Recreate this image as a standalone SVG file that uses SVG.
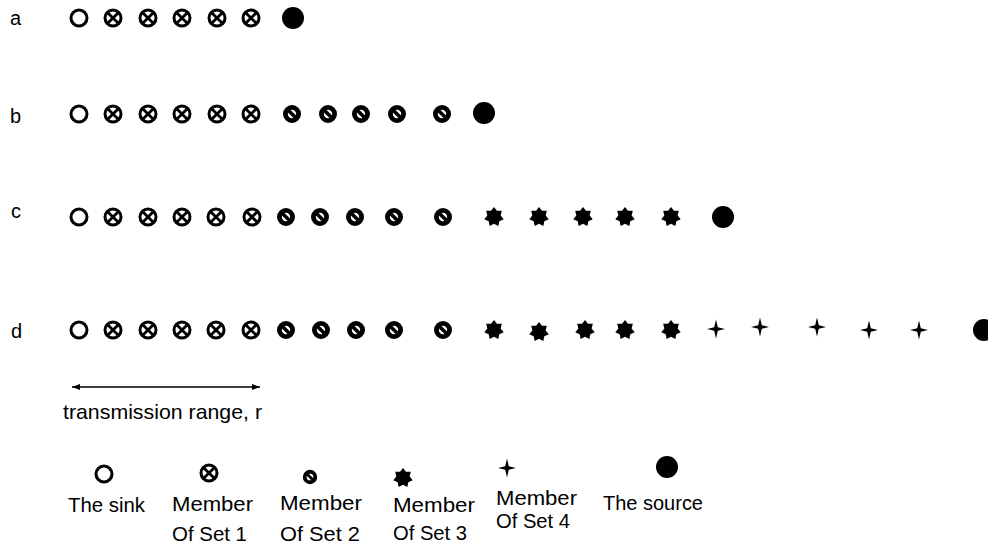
<svg xmlns="http://www.w3.org/2000/svg" xmlns:xlink="http://www.w3.org/1999/xlink" width="988" height="544" viewBox="0 0 988 544">
<style>
  text { font-family: "Liberation Sans", Arial, sans-serif; fill: #000; }
  .row { font-size: 20px; }
  .lbl { font-size: 21px; }
  .ring { fill: none; stroke: #000; stroke-width: 3; }
  .xline { stroke: #000; stroke-width: 2.8; fill: none; }
  .ring2 { fill: none; stroke: #000; stroke-width: 4.8; }
  .bar2 { stroke: #000; stroke-width: 3.6; }
  .fillk { fill: #000; stroke: none; }
  .conn { stroke: #000; stroke-width: 1.3; fill: none; }
</style>
<defs>
  <g id="sink"><circle class="ring" r="8"/></g>
  <g id="set1"><circle class="ring" r="8"/><path class="xline" d="M-5.3,-5.3 L5.3,5.3 M5.3,-5.3 L-5.3,5.3"/></g>
  <g id="set2"><circle class="ring2" r="6.6"/><path class="bar2" d="M-4.8,-4.8 L4.8,4.8"/></g>
  <g id="set3"><polygon class="fillk" transform="scale(1.05)" points="0,-9.5 2.82,-5.86 7.43,-5.92 6.34,-1.45 9.26,2.11 5.08,4.05 4.12,8.56 0,6.5 -4.12,8.56 -5.08,4.05 -9.26,2.11 -6.34,-1.45 -7.43,-5.92 -2.82,-5.86"/></g>
  <g id="set4"><path class="fillk" d="M0,-9.5 L1.8,-1.8 L9,0 L1.8,1.8 L0,9.5 L-1.8,1.8 L-9,0 L-1.8,-1.8 Z"/></g>
  <g id="source"><circle class="fillk" r="11"/></g>
  <marker id="ah" viewBox="0 0 8 6" refX="8" refY="3" markerWidth="8" markerHeight="6" markerUnits="userSpaceOnUse" orient="auto-start-reverse">
    <path d="M0,0 L8,3 L0,6 Z" fill="#000"/>
  </marker>
</defs>
<rect width="988" height="544" fill="#fff"/>

<!-- Row labels -->
<g id="row-labels" class="row">
  <text x="10" y="25">a</text>
  <text x="10" y="123">b</text>
  <text x="11" y="218">c</text>
  <text x="11" y="338">d</text>
</g>

<!-- Row a -->
<g id="row-a">
  <g id="a-sink"><use xlink:href="#sink" href="#sink" x="79" y="18"/></g>
  <g id="a-set1">
    <use href="#set1" x="113" y="18"/><use href="#set1" x="148" y="18"/><use href="#set1" x="182" y="18"/><use href="#set1" x="217" y="18"/><use href="#set1" x="251" y="18"/>
  </g>
  <g id="a-source"><use href="#source" x="293" y="18"/></g>
</g>

<!-- Row b -->
<g id="row-b">
  <g id="b-sink"><use href="#sink" x="79" y="114"/></g>
  <g id="b-set1">
    <use href="#set1" x="113" y="114"/><use href="#set1" x="148" y="114"/><use href="#set1" x="182" y="114"/><use href="#set1" x="217" y="114"/><use href="#set1" x="251" y="114"/>
  </g>
  <g id="b-set2">
    <use href="#set2" x="292" y="114"/><use href="#set2" x="328" y="114"/><use href="#set2" x="361" y="114"/><use href="#set2" x="397" y="114"/><use href="#set2" x="442" y="114"/>
  </g>
  <g id="b-source"><use href="#source" x="484" y="113"/></g>
</g>

<!-- Row c -->
<g id="row-c">
  <g id="c-sink"><use href="#sink" x="79" y="217"/></g>
  <g id="c-set1">
    <use href="#set1" x="113" y="217"/><use href="#set1" x="148" y="217"/><use href="#set1" x="182" y="217"/><use href="#set1" x="216" y="217"/><use href="#set1" x="252" y="217"/>
  </g>
  <g id="c-set2">
    <use href="#set2" x="286" y="217"/><use href="#set2" x="320" y="217"/><use href="#set2" x="355" y="217"/><use href="#set2" x="394" y="217"/><use href="#set2" x="443" y="217"/>
  </g>
  <g id="c-set3">
    <use href="#set3" x="494" y="217"/><use href="#set3" x="539" y="217"/><use href="#set3" x="583" y="217"/><use href="#set3" x="625" y="217"/><use href="#set3" x="671" y="217"/>
  </g>
  <g id="c-source"><use href="#source" x="723" y="217"/></g>
</g>

<!-- Row d -->
<g id="row-d">
  <g id="d-sink"><use href="#sink" x="79" y="330"/></g>
  <g id="d-set1">
    <use href="#set1" x="113" y="330"/><use href="#set1" x="148" y="330"/><use href="#set1" x="182" y="330"/><use href="#set1" x="216" y="330"/><use href="#set1" x="251" y="330"/>
  </g>
  <g id="d-set2">
    <use href="#set2" x="286" y="330"/><use href="#set2" x="321" y="330"/><use href="#set2" x="356" y="330"/><use href="#set2" x="394" y="330"/><use href="#set2" x="443" y="330"/>
  </g>
  <g id="d-set3">
    <use href="#set3" x="494" y="330"/><use href="#set3" x="539" y="332"/><use href="#set3" x="585" y="330"/><use href="#set3" x="625" y="330"/><use href="#set3" x="671" y="330"/>
  </g>
  <g id="d-set4">
    <use href="#set4" x="716" y="329"/><use href="#set4" x="760" y="327"/><use href="#set4" x="817" y="327"/><use href="#set4" x="869" y="330"/><use href="#set4" x="919" y="330"/>
  </g>
  <g id="d-source"><use href="#source" x="984" y="330"/></g>
</g>

<!-- Connectors -->
<g id="connectors">
  <line class="conn" x1="72" y1="387" x2="260" y2="387" marker-start="url(#ah)" marker-end="url(#ah)"/>
</g>
<g id="range-label" class="lbl">
  <text x="63" y="419" textLength="199" lengthAdjust="spacingAndGlyphs">transmission range, r</text>
</g>

<!-- Legend -->
<g id="legend-sink">
  <use href="#sink" x="104" y="474"/>
  <text class="lbl" x="68" y="512" textLength="77" lengthAdjust="spacingAndGlyphs">The sink</text>
</g>
<g id="legend-set1">
  <use href="#set1" x="209" y="473"/>
  <text class="lbl" x="172" y="511" textLength="81" lengthAdjust="spacingAndGlyphs">Member</text>
  <text class="lbl" x="172" y="541" textLength="75" lengthAdjust="spacingAndGlyphs">Of Set 1</text>
</g>
<g id="legend-set2">
  <use href="#set2" transform="translate(310,477) scale(0.8)"/>
  <text class="lbl" x="280" y="510" textLength="82" lengthAdjust="spacingAndGlyphs">Member</text>
  <text class="lbl" x="280" y="541" textLength="80" lengthAdjust="spacingAndGlyphs">Of Set 2</text>
</g>
<g id="legend-set3">
  <use href="#set3" x="403" y="478"/>
  <text class="lbl" x="393" y="512" textLength="82" lengthAdjust="spacingAndGlyphs">Member</text>
  <text class="lbl" x="393" y="540" textLength="74" lengthAdjust="spacingAndGlyphs">Of Set 3</text>
</g>
<g id="legend-set4">
  <use href="#set4" x="507" y="468"/>
  <text class="lbl" x="496" y="505" textLength="81" lengthAdjust="spacingAndGlyphs">Member</text>
  <text class="lbl" x="496" y="528" textLength="74" lengthAdjust="spacingAndGlyphs">Of Set 4</text>
</g>
<g id="legend-source">
  <use href="#source" x="667" y="467"/>
  <text class="lbl" x="603" y="510" textLength="100" lengthAdjust="spacingAndGlyphs">The source</text>
</g>
</svg>
